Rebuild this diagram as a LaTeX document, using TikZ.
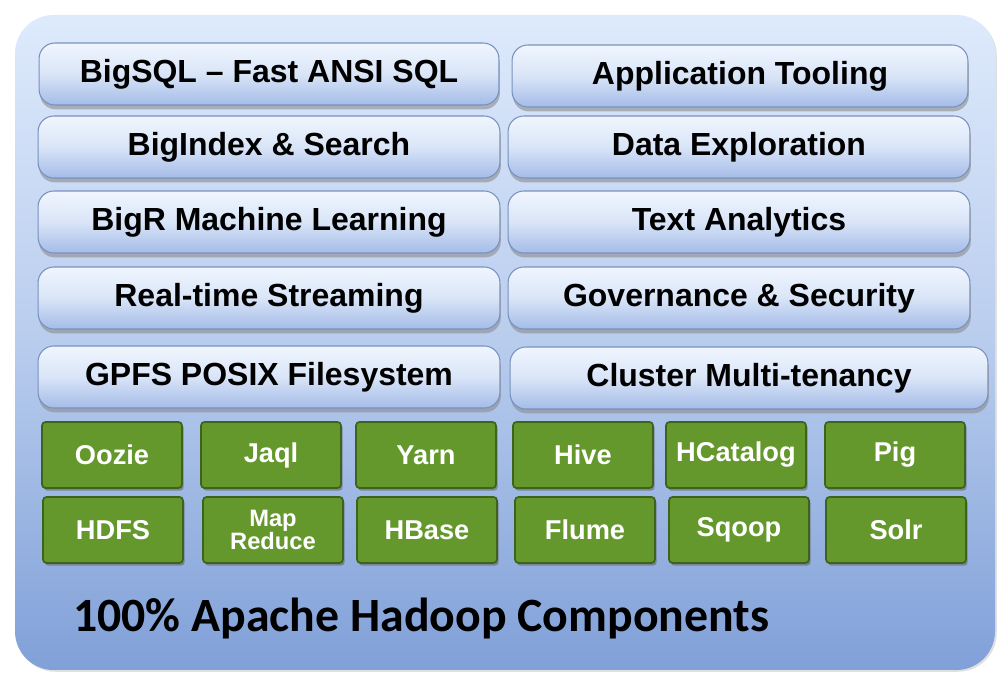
\documentclass[tikz,border=0pt]{standalone}
\usepackage{fontspec}
\setmainfont{Liberation Sans}
\newfontfamily\calfont{Carlito}
\usepackage{tikz}
\usetikzlibrary{shadows, positioning}
\definecolor{panelTop}{RGB}{222, 234, 252}
\definecolor{panelBot}{RGB}{128, 160, 216}
\definecolor{btnTop}{RGB}{240, 246, 254}
\definecolor{btnBot}{RGB}{164, 188, 232}
\definecolor{btnEdge}{RGB}{120, 145, 190}
\definecolor{hadoopgreen}{RGB}{101, 152, 44}
\definecolor{greenEdge}{RGB}{62, 100, 28}

\begin{document}
\begin{tikzpicture}[x=0.02cm, y=-0.02cm,
  bluebtn/.style={draw=btnEdge, line width=0.6pt, rounded corners=9pt, top color=btnTop, bottom color=btnBot,
    middle color=btnTop!70!btnBot, minimum height=1.24cm, font=\fontsize{18.2}{21}\selectfont\bfseries,
    drop shadow={shadow xshift=0.5pt, shadow yshift=-2.5pt, fill=black!45, opacity=0.6}},
  greenbox/.style={draw=greenEdge, line width=1pt, fill=hadoopgreen, rounded corners=2pt, minimum width=2.8cm,
    minimum height=1.32cm, text=white, font=\fontsize{15.5}{15}\selectfont\bfseries, align=center,
    drop shadow={shadow xshift=1pt, shadow yshift=-1.5pt, fill=black!60, opacity=0.6}}]
  \useasboundingbox (0,0) rectangle (1002,675);

  % Outer panel
  \shade[top color=panelTop, bottom color=panelBot, middle color=panelTop!60!panelBot, rounded corners=22pt,
    drop shadow={shadow xshift=1pt, shadow yshift=-1pt, fill=black!30, opacity=0.4}]
    (15,15) rectangle (995,670);

  % Left column
  \node[bluebtn, minimum width=9.2cm] (bigsql) at (269,74) {BigSQL -- Fast ANSI SQL};
  \node[bluebtn, minimum width=9.24cm] (bigindex) at (269,147) {BigIndex \& Search};
  \node[bluebtn, minimum width=9.24cm] (bigr) at (269,222) {BigR Machine Learning};
  \node[bluebtn, minimum width=9.24cm] (stream) at (269,298) {Real-time Streaming};
  \node[bluebtn, minimum width=9.24cm] (gpfs) at (269,377) {GPFS POSIX Filesystem};

  % Right column
  \node[bluebtn, minimum width=9.12cm] (tooling) at (740,76) {Application Tooling};
  \node[bluebtn, minimum width=9.24cm] (explore) at (739,147) {Data Exploration};
  \node[bluebtn, minimum width=9.24cm] (text) at (739,222) {Text Analytics};
  \node[bluebtn, minimum width=9.24cm] (govern) at (739,298) {Governance \& Security};
  \node[bluebtn, minimum width=9.56cm] (cluster) at (749,378) {Cluster Multi-tenancy};

  % Hadoop components, first row
  \node[greenbox] (oozie) at (112,455) {Oozie};
  \node[greenbox] (jaql) at (271,455) {Jaql};
  \node[greenbox] (yarn) at (426,455) {Yarn};
  \node[greenbox] (hive) at (583,455) {Hive};
  \node[greenbox] (hcat) at (736,455) {HCatalog};
  \node[greenbox] (pig) at (895,455) {Pig};

  % Hadoop components, second row
  \node[greenbox] (hdfs) at (113,530) {HDFS};
  \node[greenbox, font=\fontsize{13.5}{12}\selectfont\bfseries] (mapred) at (273,530) {Map\\Reduce};
  \node[greenbox] (hbase) at (427,530) {HBase};
  \node[greenbox] (flume) at (585,530) {Flume};
  \node[greenbox] (sqoop) at (739,530) {Sqoop};
  \node[greenbox] (solr) at (896,530) {Solr};

  \node[anchor=west, font=\calfont\fontsize{27.2}{30}\selectfont\bfseries] (caption) at (67,618)
    {100\% Apache Hadoop Components};
\end{tikzpicture}
\end{document}
